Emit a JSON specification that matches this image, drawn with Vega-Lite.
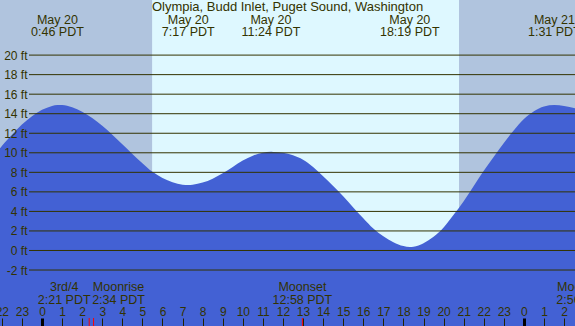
{
  "$schema": "https://vega.github.io/schema/vega-lite/v6.json",
  "width": 575,
  "height": 326,
  "autosize": {"type": "none"},
  "padding": 0,
  "background": "#b0c4de",
  "config": {"view": {"stroke": null}, "font": "Liberation Sans", "axis": {"labelOverlap": false}},
  "datasets": {
    "bands": [
      {"start": -2.092, "end": 5.483, "phase": "night"},
      {"start": 5.483, "end": 20.767, "phase": "day"},
      {"start": 20.767, "end": 26.544, "phase": "night"}
    ],
    "tide": [
      {"hour": -2.092, "ft": 10.46},
      {"hour": -2.0, "ft": 10.7},
      {"hour": -1.5, "ft": 11.85},
      {"hour": -1.0, "ft": 12.9},
      {"hour": -0.5, "ft": 13.75},
      {"hour": 0.0, "ft": 14.4},
      {"hour": 0.5, "ft": 14.8},
      {"hour": 0.767, "ft": 14.9},
      {"hour": 1.0, "ft": 14.89},
      {"hour": 1.5, "ft": 14.65},
      {"hour": 2.0, "ft": 14.19},
      {"hour": 2.5, "ft": 13.55},
      {"hour": 3.0, "ft": 12.76},
      {"hour": 3.5, "ft": 11.85},
      {"hour": 4.0, "ft": 10.87},
      {"hour": 4.5, "ft": 9.88},
      {"hour": 5.0, "ft": 8.94},
      {"hour": 5.5, "ft": 8.05},
      {"hour": 6.0, "ft": 7.42},
      {"hour": 6.5, "ft": 6.99},
      {"hour": 7.0, "ft": 6.74},
      {"hour": 7.283, "ft": 6.7},
      {"hour": 7.5, "ft": 6.73},
      {"hour": 8.0, "ft": 6.95},
      {"hour": 8.5, "ft": 7.35},
      {"hour": 9.0, "ft": 7.9},
      {"hour": 9.5, "ft": 8.55},
      {"hour": 10.0, "ft": 9.2},
      {"hour": 10.5, "ft": 9.7},
      {"hour": 11.0, "ft": 10.0},
      {"hour": 11.4, "ft": 10.1},
      {"hour": 11.5, "ft": 10.09},
      {"hour": 12.0, "ft": 10.0},
      {"hour": 12.5, "ft": 9.75},
      {"hour": 13.0, "ft": 9.3},
      {"hour": 13.5, "ft": 8.55},
      {"hour": 14.0, "ft": 7.6},
      {"hour": 14.5, "ft": 6.6},
      {"hour": 15.0, "ft": 5.55},
      {"hour": 15.5, "ft": 4.4},
      {"hour": 16.0, "ft": 3.3},
      {"hour": 16.5, "ft": 2.25},
      {"hour": 17.0, "ft": 1.45},
      {"hour": 17.5, "ft": 0.85},
      {"hour": 18.0, "ft": 0.45},
      {"hour": 18.317, "ft": 0.35},
      {"hour": 18.5, "ft": 0.38},
      {"hour": 19.0, "ft": 0.75},
      {"hour": 19.5, "ft": 1.4},
      {"hour": 20.0, "ft": 2.35},
      {"hour": 20.5, "ft": 3.65},
      {"hour": 21.0, "ft": 5.05},
      {"hour": 21.5, "ft": 6.6},
      {"hour": 22.0, "ft": 8.15},
      {"hour": 22.5, "ft": 9.6},
      {"hour": 23.0, "ft": 11.0},
      {"hour": 23.5, "ft": 12.3},
      {"hour": 24.0, "ft": 13.45},
      {"hour": 24.5, "ft": 14.25},
      {"hour": 25.0, "ft": 14.75},
      {"hour": 25.517, "ft": 14.9},
      {"hour": 26.0, "ft": 14.8},
      {"hour": 26.544, "ft": 14.55}
    ],
    "levels": [
      {"level": -2}, {"level": 0}, {"level": 2}, {"level": 4}, {"level": 6},
      {"level": 8}, {"level": 10}, {"level": 12}, {"level": 14}, {"level": 16},
      {"level": 18}, {"level": 20}
    ],
    "extremes": [
      {"time": 0.767, "lines": ["May 20", "0:46 PDT"]},
      {"time": 7.283, "lines": ["May 20", "7:17 PDT"]},
      {"time": 11.4, "lines": ["May 20", "11:24 PDT"]},
      {"time": 18.317, "lines": ["May 20", "18:19 PDT"]},
      {"time": 25.517, "lines": ["May 21", "1:31 PDT"]}
    ],
    "moon": [
      {"time": 2.35, "event": "3rd/4", "lines": ["3rd/4", "2:21 PDT"]},
      {"time": 2.567, "event": "Moonrise", "lines": ["Moonrise", "2:34 PDT"]},
      {"time": 12.967, "event": "Moonset", "lines": ["Moonset", "12:58 PDT"]},
      {"time": 26.93, "event": "Moonrise", "lines": ["Moonrise", "2:56 PDT"]}
    ],
    "title": [
      {"text": "Olympia, Budd Inlet, Puget Sound, Washington"}
    ]
  },
  "layer": [
    {
      "data": {"name": "bands"},
      "mark": {"type": "rect"},
      "encoding": {
        "x": {
          "field": "start",
          "type": "quantitative",
          "scale": {"domain": [-2.092, 26.544], "nice": false, "zero": false},
          "axis": {
            "orient": "bottom",
            "offset": -8,
            "zindex": 2,
            "title": null,
            "values": [-2, -1, 0, 1, 2, 3, 4, 5, 6, 7, 8, 9, 10, 11, 12, 13, 14, 15, 16, 17, 18, 19, 20, 21, 22, 23, 24, 25, 26],
            "tickCount": 100,
            "domain": false,
            "grid": false,
            "tickSize": 8,
            "tickColor": {"condition": {"test": "datum.value % 24 === 0", "value": "#000000"}, "value": "#222200"},
            "tickWidth": {"condition": {"test": "datum.value % 24 === 0", "value": 3}, "value": 1},
            "labelExpr": "toString((datum.value % 24 + 24) % 24)",
            "labelFlush": false,
            "labelOverlap": false,
            "labelPadding": -10.5,
            "labelBaseline": "alphabetic",
            "labelFontSize": 12,
            "labelFont": "Liberation Sans",
            "labelColor": "#333300"
          }
        },
        "x2": {"field": "end"},
        "color": {
          "field": "phase",
          "type": "nominal",
          "scale": {"domain": ["night", "day"], "range": ["#b0c4de", "#def8ff"]},
          "legend": null
        }
      }
    },
    {
      "data": {"name": "tide"},
      "mark": {"type": "area", "interpolate": "monotone", "color": "#4361d4", "clip": true},
      "encoding": {
        "x": {"field": "hour", "type": "quantitative"},
        "y": {
          "field": "ft",
          "type": "quantitative",
          "scale": {"domain": [-7.73, 25.64], "nice": false, "zero": false},
          "axis": {
            "orient": "left",
            "offset": -29,
            "zindex": 2,
            "title": null,
            "values": [-2, 0, 2, 4, 6, 8, 10, 12, 14, 16, 18, 20],
            "tickCount": 100,
            "domain": false,
            "grid": false,
            "ticks": false,
            "tickSize": 0,
            "labelPadding": 2,
            "labelExpr": "datum.value + ' ft'",
            "labelOverlap": false,
            "labelFontSize": 12,
            "labelFont": "Liberation Sans",
            "labelColor": "#333300"
          }
        },
        "y2": {"datum": -7.73}
      }
    },
    {
      "data": {"name": "levels"},
      "mark": {"type": "rule", "color": "#333300", "strokeWidth": 1},
      "encoding": {
        "y": {"field": "level", "type": "quantitative"},
        "x": {"datum": -0.647},
        "x2": {"datum": 26.544}
      }
    },
    {
      "data": {"name": "moon"},
      "mark": {"type": "rule", "color": "#ff0000", "strokeWidth": 1, "clip": true},
      "encoding": {
        "x": {"field": "time", "type": "quantitative"},
        "y": {"datum": -6.91},
        "y2": {"datum": -7.73}
      }
    },
    {
      "data": {"name": "title"},
      "mark": {"type": "text", "font": "Liberation Sans", "fontSize": 13, "color": "#333300", "align": "center", "baseline": "alphabetic"},
      "encoding": {
        "text": {"field": "text", "type": "nominal"},
        "x": {"datum": 12.226},
        "y": {"datum": 24.51}
      }
    },
    {
      "data": {"name": "extremes"},
      "mark": {"type": "text", "font": "Liberation Sans", "fontSize": 12.5, "color": "#333300", "align": "center", "baseline": "alphabetic", "lineHeight": 12, "clip": true},
      "encoding": {
        "text": {"field": "lines", "type": "nominal"},
        "x": {"field": "time", "type": "quantitative"},
        "y": {"datum": 23.18}
      }
    },
    {
      "data": {"name": "moon"},
      "transform": [{"filter": "datum.event === '3rd/4'"}],
      "mark": {"type": "text", "font": "Liberation Sans", "fontSize": 12.5, "color": "#333300", "align": "center", "baseline": "alphabetic", "lineHeight": 13, "dx": -25, "clip": true},
      "encoding": {
        "text": {"field": "lines", "type": "nominal"},
        "x": {"field": "time", "type": "quantitative"},
        "y": {"datum": -4.145}
      }
    },
    {
      "data": {"name": "moon"},
      "transform": [{"filter": "datum.event === 'Moonrise' && datum.time < 12"}],
      "mark": {"type": "text", "font": "Liberation Sans", "fontSize": 12.5, "color": "#333300", "align": "center", "baseline": "alphabetic", "lineHeight": 13, "dx": 25, "clip": true},
      "encoding": {
        "text": {"field": "lines", "type": "nominal"},
        "x": {"field": "time", "type": "quantitative"},
        "y": {"datum": -4.145}
      }
    },
    {
      "data": {"name": "moon"},
      "transform": [{"filter": "datum.time > 12"}],
      "mark": {"type": "text", "font": "Liberation Sans", "fontSize": 12.5, "color": "#333300", "align": "center", "baseline": "alphabetic", "lineHeight": 13, "clip": true},
      "encoding": {
        "text": {"field": "lines", "type": "nominal"},
        "x": {"field": "time", "type": "quantitative"},
        "y": {"datum": -4.145}
      }
    }
  ]
}
